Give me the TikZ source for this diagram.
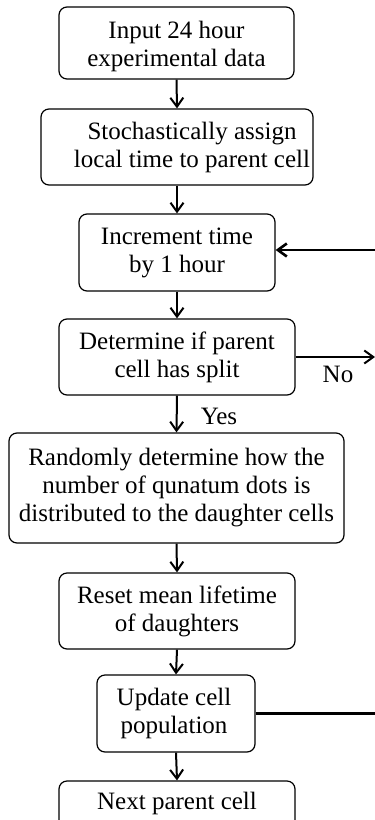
\documentclass[tikz,border=0pt]{standalone}
\usepackage{fontspec}
\setmainfont{Liberation Serif}
\usetikzlibrary{arrows.meta}
\begin{document}
\begin{tikzpicture}[x=1pt,y=-1pt,
  box/.style={draw, rounded corners=8pt, line width=1.2pt, inner sep=0pt},
  txt/.style={align=center, font=\fontsize{25}{28}\selectfont, inner sep=0pt},
  flow/.style={-{Straight Barb[length=9pt,width=13pt]}, line width=2pt},
  loopline/.style={line width=2.6pt}
]
\useasboundingbox (0,0) rectangle (375,820);
\clip (0,0) rectangle (375,820);
\fill[white] (0,0) rectangle (375,820);

% process boxes
\node[box, minimum width=235, minimum height=72] (b1) at (176.5,43) {};
\node[txt] (t1) at ([yshift=-3pt]b1.center) {Input 24 hour\\experimental data};
\node[box, minimum width=272, minimum height=76] (b2) at (177,147) {};
\node[txt] (t2) at ([xshift=15pt]b2.center) {Stochastically assign\\local time to parent cell};
\node[box, txt, minimum width=196, minimum height=77] (b3) at (177,252.5) {Increment time\\by 1 hour};
\node[box, txt, minimum width=236, minimum height=76] (b4) at (177,357) {Determine if parent\\cell has split};
\node[box, txt, minimum width=335, minimum height=110] (b5) at (176.5,488) {Randomly determine how the\\number of qunatum dots is\\distributed to the daughter cells};
\node[box, txt, minimum width=236, minimum height=76] (b6) at (177,611) {Reset mean lifetime\\of daughters};
\node[box, minimum width=158, minimum height=77] (b7) at (176,713.5) {};
\node[txt] (t7) at ([xshift=-2pt]b7.center) {Update cell\\population};
\node[box, minimum width=236, minimum height=48] (b8) at (177,805) {};
\node[txt] (t8) at (177,803) {Next parent cell};

% loose ends at the right border
\coordinate (noend) at (375,357);
\coordinate (loopin) at (375,250);
\coordinate (loopout) at (375,713);

% main flow
\draw[flow] (b1.south) -- (b2.north);
\draw[flow] (b2.south) -- (b3.north);
\draw[flow] (b3.south) -- (b4.north);
\draw[flow] (b4.south) -- (b5.north);
\node[txt] (yes) at (219,416) {Yes};
\draw[flow] (b5.south) -- (b6.north);
\draw[flow] (b6.south) -- (b7.north);
\draw[flow] (b7.south) -- (b8.north);

% branches to the right
\draw[flow] (b4.east) -- (noend);
\node[txt] (no) at (338,374) {No};
\draw[flow, line width=2.6pt] (loopin) -- (loopin -| b3.east);
\draw[loopline] (b7.east) -- (b7.east -| loopout);
\end{tikzpicture}
\end{document}
